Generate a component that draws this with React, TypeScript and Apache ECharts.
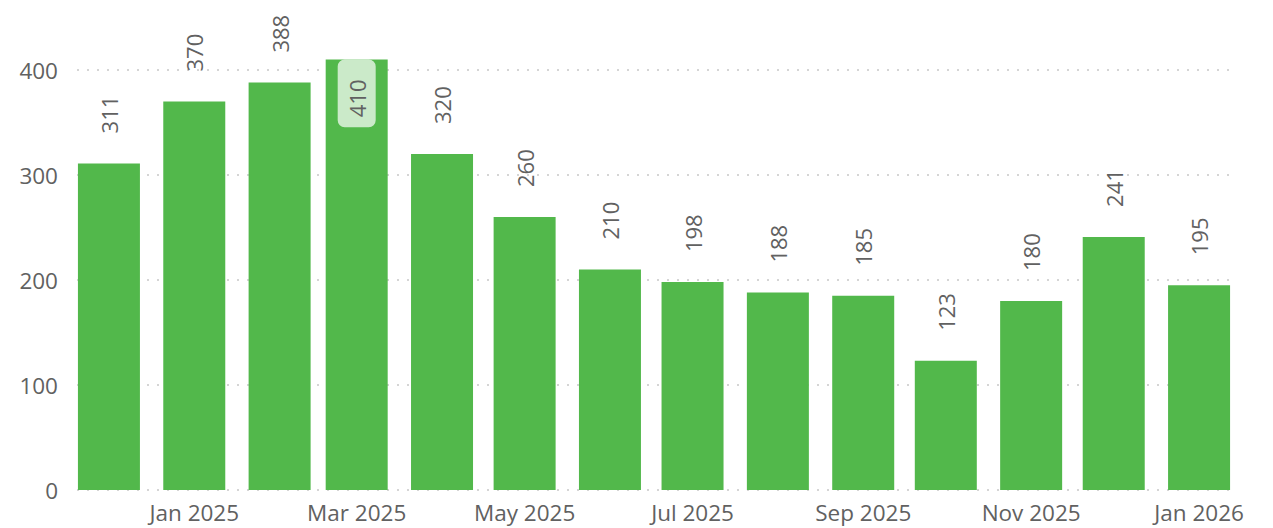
import React, { useEffect, useRef } from "react";
import * as echarts from "echarts";

const months: string[] = [
  "2024-12", "2025-01", "2025-02", "2025-03", "2025-04", "2025-05", "2025-06",
  "2025-07", "2025-08", "2025-09", "2025-10", "2025-11", "2025-12", "2026-01",
];
const values: number[] = [311, 370, 388, 410, 320, 260, 210, 198, 188, 185, 123, 180, 241, 195];
const tickMonths: string[] = ["2025-01", "2025-03", "2025-05", "2025-07", "2025-09", "2025-11", "2026-01"];
const monthNames: string[] = ["Jan", "Feb", "Mar", "Apr", "May", "Jun", "Jul", "Aug", "Sep", "Oct", "Nov", "Dec"];
const yTicks = { min: 0, max: 420, interval: 100 };

// days since 2024-12-01 (UTC, so no DST noise)
const BASE = Date.UTC(2024, 11, 1);
const DAY = 86400000;
const toDay = (s: string) => {
  const [y, m] = s.split("-").map(Number);
  return Math.round((Date.UTC(y, m - 1, 1) - BASE) / DAY);
};
const dayLabel = (d: number) => {
  const dt = new Date(BASE + d * DAY);
  return `${monthNames[dt.getUTCMonth()]} ${dt.getUTCFullYear()}`;
};

const FONT = "'Segoe UI', 'Open Sans', sans-serif";
const GREY = "#616161";

export default function App() {
  const ref = useRef<HTMLDivElement>(null);
  useEffect(() => {
    if (!ref.current) return;
    const chart = echarts.init(ref.current, undefined, { renderer: "svg" });
    const maxV = Math.max(...values);
    const data = months.map((m, i) => {
      const item: any = { value: [toDay(m), values[i]] };
      if (values[i] === maxV) {
        item.label = {
          position: "insideTop",
          distance: 0,
          align: "right",
          verticalAlign: "middle",
          backgroundColor: "rgba(255,255,255,0.7)",
          borderRadius: 7,
          padding: [8, 20, 8, 10],
        };
      }
      return item;
    });
    chart.setOption({
      animation: false,
      grid: { left: 77, right: 42, top: 49, bottom: 38, containLabel: false },
      xAxis: {
        type: "value",
        min: toDay(months[0]) - 11.6,
        max: toDay(months[months.length - 1]) + 11.6,
        axisLine: { show: false },
        axisTick: { show: false },
        splitLine: { show: false },
        axisLabel: {
          customValues: tickMonths.map(toDay),
          formatter: (v: number) => dayLabel(v),
          fontSize: 22.5,
          fontFamily: FONT,
          color: GREY,
          margin: 11,
        },
      },
      yAxis: {
        type: "value",
        min: yTicks.min,
        max: yTicks.max,
        interval: yTicks.interval,
        axisLine: { show: false },
        axisTick: { show: false },
        axisLabel: {
          fontSize: 22.5,
          fontFamily: FONT,
          color: GREY,
          margin: 19,
          showMaxLabel: false,
        },
        splitLine: {
          show: true,
          showMaxLine: false,
          lineStyle: { color: "#c8c8c8", type: [2, 8], width: 1.5 },
        },
      },
      series: [
        {
          type: "bar",
          data,
          barWidth: 62,
          itemStyle: { color: "#52b84b" },
          label: {
            show: true,
            position: "top",
            rotate: 90,
            align: "left",
            verticalAlign: "middle",
            distance: 30,
            fontSize: 22,
            fontFamily: FONT,
            color: GREY,
          },
        },
      ],
    });
    return () => chart.dispose();
  }, []);
  return (
    <div
      ref={ref}
      style={{ position: "absolute", left: 0, top: 0, width: 1273, height: 528 }}
    />
  );
}
